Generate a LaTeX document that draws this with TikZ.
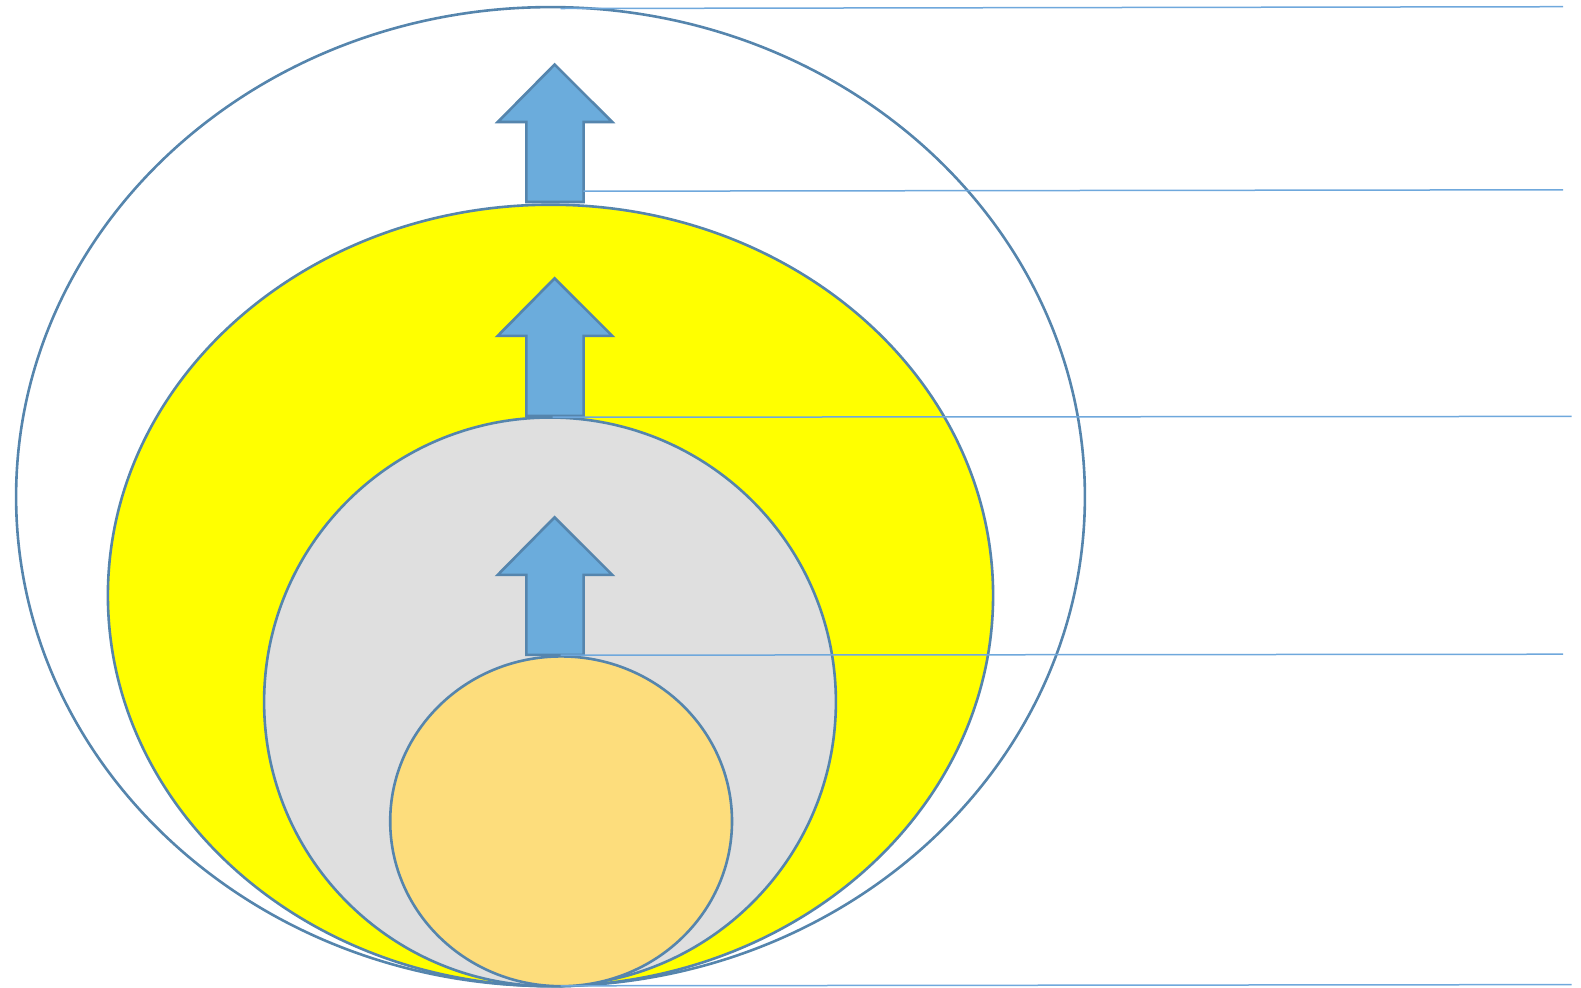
\documentclass[tikz,border=0pt]{standalone}
\usetikzlibrary{calc}
\definecolor{rimblue}{HTML}{5585AD}
\definecolor{arrowblue}{HTML}{6BACDC}
\definecolor{leaderblue}{HTML}{6FA8DC}
\definecolor{shellyellow}{HTML}{FFFF00}
\definecolor{shellgray}{HTML}{DFDFDF}
\definecolor{coreorange}{HTML}{FDDD7C}
\tikzset{
    shell/.style={draw=rimblue, line width=1.3pt},
    uparrow/.style={draw=rimblue, fill=arrowblue, line width=1.3pt, line join=miter},
    leader/.style={draw=leaderblue, line width=0.75pt},
}
% upward block arrow, #1 = y of its tip
\newcommand{\growarrow}[1]{%
    \draw[uparrow] (554.6,#1) -- ++(57.6,57.5) -- ++(-28.6,0) -- ++(0,80) -- ++(-57.2,0)
        -- ++(0,-80) -- ++(-28.6,0) -- cycle;
}
\begin{document}
\begin{tikzpicture}[x=0.5pt, y=-0.5pt]
    \useasboundingbox (0,0) rectangle (1581,987);

    % Nested shells
    \draw[shell, fill=white] (550.5,496.6) ellipse [x radius=534.4, y radius=489.5];
    \draw[shell, fill=shellyellow] (550.5,595.4) ellipse [x radius=442.6, y radius=390.7];
    \draw[shell, fill=shellgray] (550,701.8) ellipse [x radius=285.9, y radius=284.3];
    \draw[shell, fill=coreorange] (561.1,821.3) ellipse [x radius=170.9, y radius=164.9];

    % Arrows
    \growarrow{64.5}
    \growarrow{278.3}
    \growarrow{517.3}

    % Leader ends
    \coordinate (outertop) at (560.6,8.5);
    \coordinate (arrowone) at (583.3,191.2);
    \coordinate (graytop) at (552.6,417.2);
    \coordinate (coretop) at (560.6,655.2);
    \coordinate (bottom) at (560.6,985.8);
    \coordinate (outertopR) at (1563,6.7);
    \coordinate (arrowoneR) at (1563,189.8);
    \coordinate (graytopR) at (1571.5,416.4);
    \coordinate (coretopR) at (1563,654.2);
    \coordinate (bottomR) at (1571.5,984.6);

    % Leaders
    \draw[leader] (outertop) -- (outertopR);
    \draw[leader] (arrowone) -- (arrowoneR);
    \draw[leader] (graytop) -- (graytopR);
    \draw[leader] (coretop) -- (coretopR);
    \draw[leader] (bottom) -- (bottomR);
\end{tikzpicture}
\end{document}
